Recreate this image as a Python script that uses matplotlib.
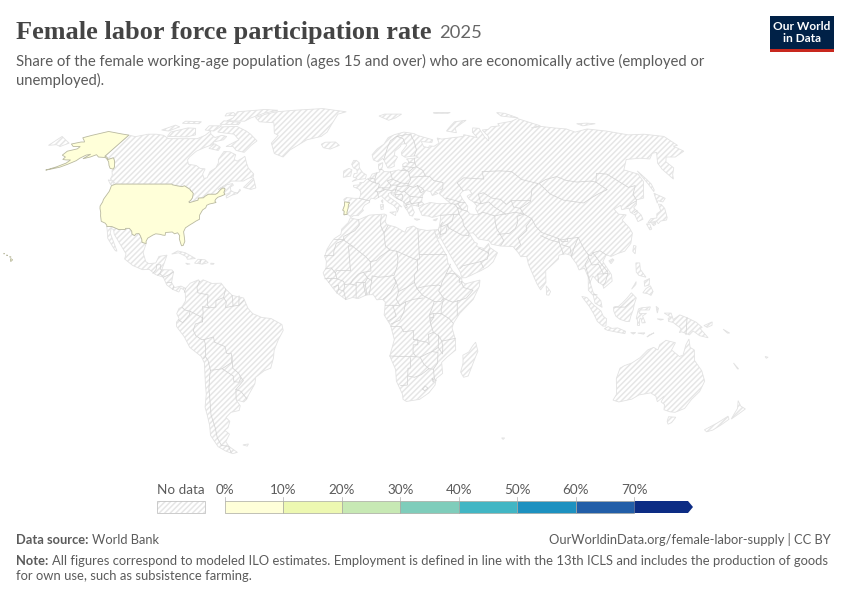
import numpy as np
import matplotlib
matplotlib.use("Agg")
import matplotlib.pyplot as plt
from matplotlib.patches import Polygon, Rectangle

plt.rcParams['font.family'] = ['Lato', 'DejaVu Sans']
plt.rcParams['hatch.linewidth'] = 1.1

# legend
bin_edges = [0, 10, 20, 30, 40, 50, 60, 70]
bin_labels = ["0%", "10%", "20%", "30%", "40%", "50%", "60%", "70%"]
bin_colors = ["#ffffd9", "#edf8b1", "#c7e9b4", "#7fcdbb", "#41b6c4", "#1d91c0", "#225ea8", "#0c2c84"]

# countries with data, all in the lowest bin in this picture
usa_value = 5
portugal_value = 5

# robinson table
rob_lat = [0, 5, 10, 15, 20, 25, 30, 35, 40, 45, 50, 55, 60, 65, 70, 75, 80, 85, 90]
rob_x = [1, .9986, .9954, .99, .9822, .973, .96, .9427, .9216, .8962, .8679, .835, .7986, .7597, .7186, .6732, .6213, .5722, .5322]
rob_y = [0, .062, .124, .186, .248, .31, .372, .434, .4958, .5571, .6176, .6769, .7346, .7903, .8435, .8936, .9394, .9761, 1.0]

# outlines, lon/lat
usa = [(-124.7,48.4),(-123,49),(-95.2,49),(-94.6,48.7),(-92,48.3),(-89.6,48),(-88.4,48.3),(-84.9,46.9),(-84.5,46.5),(-83.5,46),(-82.5,45.3),(-82.1,43.6),(-82.5,42.6),(-83.1,42.1),(-82.7,41.7),(-79,42.7),(-79.2,43.5),(-76.8,43.6),(-76.3,44.2),(-75,45),(-71.5,45),(-70.8,45.4),(-70.3,46.2),(-70,46.7),(-69.2,47.45),(-68.3,47.35),(-67.8,47.05),(-67.8,45.7),(-67,44.9),(-68.5,44.3),(-70,43.8),(-70.7,43),(-70.8,42.3),(-70,41.8),(-71.3,41.5),(-72.9,41.2),(-74,40.7),(-74.1,39.7),(-75.3,38.9),(-75.9,37.2),(-76,36.9),(-75.5,35.3),(-76.9,34.6),(-78,33.9),(-79.2,33.2),(-81,32),(-81.4,30.5),(-80.6,28.5),(-80,26.8),(-80.4,25.2),(-81.1,25.1),(-81.8,26.2),(-82.7,27.8),(-82.8,29),(-84,30.1),(-85.3,29.7),(-86.5,30.4),(-88,30.3),(-89.5,30.2),(-89.4,29.1),(-90.5,29.2),(-91.8,29.5),(-93.8,29.7),(-95,29.2),(-97,28),(-97.4,26.8),(-97.15,25.95),(-99.1,26.4),(-99.5,27.5),(-100.5,28.9),(-101.4,29.8),(-102.7,29.7),(-103.2,29),(-104.5,29.6),(-105,30.7),(-106.5,31.8),(-108.2,31.8),(-108.2,31.33),(-111.1,31.33),(-114.8,32.5),(-117.1,32.5),(-117.3,33),(-118.4,33.8),(-120.5,34.5),(-121.9,36.6),(-122.5,37.8),(-123.8,39.5),(-124.3,40.4),(-124.2,42),(-124.5,43),(-124,46.2)]
alaska = [(-141,69.6),(-141,60.3),(-139.5,60),(-137.5,59),(-135.5,59.7),(-133.5,58.5),(-130.5,56),(-130,55),(-132,55.3),(-134,56.5),(-136,58),(-138,59),(-140,59.8),(-144,60),(-146.5,61),(-148.5,60),(-151.5,59.3),(-150,61.2),(-152,60.8),(-153.5,59.5),(-154,58.5),(-156.5,57),(-159,55.8),(-163,54.9),(-164.7,54.6),(-161,55.9),(-158,57.5),(-157.5,58.8),(-160,58.8),(-162,59),(-162,60),(-165,60.8),(-165,62.5),(-161,63.5),(-161,64.5),(-165,64.5),(-168,65.6),(-164,66.5),(-162,66.5),(-163.5,67.2),(-166.5,68.4),(-163,69.5),(-156.5,71.3),(-152,70.8),(-146,70.1)]
hawaii = [(-156,20.2),(-155,19.7),(-155.7,19),(-156,19.7)]
hawaii_small = [
    [(-159.7,22.2),(-159.3,22.1),(-159.5,21.9)],
    [(-158.2,21.6),(-157.7,21.4),(-158.1,21.3)],
    [(-156.7,21),(-156,20.8),(-156.4,20.6)],
]
portugal = [(-8.9,37),(-7.4,37.2),(-7.5,38),(-7,39.6),(-6.9,41),(-6.3,41.7),(-8.2,42),(-8.8,42),(-8.8,40.5),(-9.5,38.8),(-8.8,38.4)]

canada = [(-141,69.6),(-136,68.9),(-130,70),(-125,70),(-120,69.5),(-115,68),(-110,68),(-105,68),(-98,68),(-95,69.5),(-94,71.5),(-92,70),(-88,68.5),(-85,69.5),(-81.5,69),(-82,67.5),(-87,66.5),(-86,65.5),(-90,64),(-93,62.5),(-94.5,60),(-94.5,58.8),(-92.5,57),(-88,56.5),(-85,55.3),(-82.3,55.1),(-82.2,53),(-80.5,51.3),(-79,51.5),(-79,54),(-77,55.5),(-77,57.5),(-78,59),(-77.5,62.4),(-74,62.2),(-70,61),(-69.5,59),(-67.5,58.3),(-65.5,59.5),(-64.5,60.3),(-62,57.5),(-60,55.5),(-56,53),(-55.8,51.9),(-58,51.3),(-60,50.2),(-66,50.2),(-69,48.3),(-71,46.9),(-68,48.7),(-65,49.2),(-64.3,48.5),(-65.5,47.9),(-64.8,46.5),(-63,45.8),(-61,45.5),(-60,46.5),(-60.5,47),(-61,45.3),(-63.5,44.6),(-65.7,43.5),(-66.2,44.4),(-64.5,45.3),(-67,45),(-67.8,45.7),(-67.8,47.05),(-68.3,47.35),(-69.2,47.45),(-70,46.7),(-70.3,46.2),(-70.8,45.4),(-71.5,45),(-75,45),(-76.3,44.2),(-76.8,43.6),(-79.2,43.5),(-79,42.7),(-82.7,41.7),(-83.1,42.1),(-82.5,42.6),(-82.1,43.6),(-82.5,45.3),(-83.5,46),(-84.5,46.5),(-84.9,46.9),(-88.4,48.3),(-89.6,48),(-92,48.3),(-94.6,48.7),(-95.2,49),(-123,49),(-125,50),(-127.5,51),(-128,52.5),(-130,54.3),(-130,55),(-130.5,56),(-133.5,58.5),(-135.5,59.7),(-137.5,59),(-139.5,60),(-141,60.3)]
latin_america = [(-117.1,32.5),(-114.8,32.5),(-111.1,31.33),(-108.2,31.33),(-108.2,31.8),(-106.5,31.8),(-105,30.7),(-104.5,29.6),(-103.2,29),(-102.7,29.7),(-101.4,29.8),(-100.5,28.9),(-99.5,27.5),(-99.1,26.4),(-97.15,25.95),(-97.8,22.5),(-96,19),(-94.5,18.2),(-91.5,18.5),(-90.5,21),(-87,21.5),(-87.8,18.3),(-88.5,15.9),(-84,15.8),(-83.2,15),(-83.7,11),(-82.3,9),(-79.5,9.6),(-77.4,8.7),(-75.5,10.7),(-72,12),(-71.5,11),(-70,12),(-66,10.6),(-62,10.7),(-60,8.5),(-57,6),(-52,5),(-50,1),(-48,-1),(-44,-2.5),(-40,-2.9),(-35.3,-5.2),(-34.8,-7.5),(-37,-11),(-39,-15),(-39.5,-18),(-41,-22),(-44,-23),(-48,-25.5),(-48.7,-28),(-52,-32),(-53.5,-34),(-55,-35),(-58.3,-34.2),(-57,-36.5),(-58,-38.3),(-62,-39),(-65,-41),(-63.7,-42.5),(-65.5,-45),(-67.5,-46),(-65.8,-47.5),(-69,-50.5),(-68.4,-52.4),(-65.3,-54.8),(-68,-55.3),(-71,-54.3),(-74,-52.5),(-75.4,-48),(-74,-44),(-73.5,-40),(-73.5,-37),(-71.5,-32),(-71,-28),(-70.2,-20),(-71.3,-17.5),(-76,-14),(-78,-10),(-81.2,-6),(-81.2,-4.3),(-80,-3),(-81,-1),(-80,1),(-78.8,1.5),(-77.2,4),(-77.5,7),(-78,8),(-79.5,8.9),(-80.3,7.3),(-83,8.3),(-85.7,10),(-87.5,13),(-91,14),(-94,16),(-97,15.9),(-101.5,17.5),(-105.5,20),(-105.3,22),(-108.5,25.5),(-110,27),(-112.5,29.5),(-113.5,31.3),(-114.8,31.8),(-114.5,30),(-111.5,26),(-109.5,23),(-110.3,23.2),(-112,25),(-115,28),(-116,30.5)]
eurasia = [(-5.6,36),(-6.4,36.8),(-7.4,37.2),(-8.9,37),(-8.8,38.4),(-9.5,38.8),(-8.8,40.5),(-8.8,42),(-9.2,43),(-8,43.7),(-4,43.4),(-1.8,43.4),(-1.2,44.6),(-1.1,46),(-2.2,47.1),(-4.7,47.9),(-4.7,48.5),(-1.6,48.7),(-1.6,49.6),(0.2,49.6),(1.6,50.8),(3.5,51.4),(4.7,53),(7,53.5),(8.7,53.9),(8.1,55.5),(8.2,57),(10.5,57.7),(10.3,56.2),(9.7,55),(11,54),(14.2,53.9),(18.5,54.7),(19.8,54.4),(21,55.2),(21,57),(22.5,57.7),(24.3,57.2),(24.4,58.4),(23.5,59.2),(28,59.5),(30.2,59.9),(28.5,60.5),(25,60.2),(22.9,59.9),(21.3,60.8),(21.3,62),(25,65),(24.5,65.8),(22,65.5),(21.3,64.5),(17.8,62.5),(17.2,60.7),(18.8,60),(16.5,57.5),(16.5,56.2),(14.3,55.5),(12.9,55.5),(11.2,58.9),(10.6,59.4),(8,58),(5.6,58.8),(5,61),(8,63.5),(12,65.5),(15,68.5),(19,69.8),(25,71),(31,70.3),(33,69.4),(41,67.5),(40,66.3),(34,66.7),(34.5,64.5),(37,64),(38,64.8),(40.5,64.6),(44,66),(44,68.3),(46.5,67.8),(54,68.5),(60,69),(60.8,69.8),(68,68.5),(67,71),(69,73),(72.8,72.8),(72.5,69),(73.5,67),(75,69),(74,72),(78,72.3),(81,73.5),(87,74),(87,75),(98,76.3),(104,77.7),(113,74),(106,73),(113,73.7),(120,73),(127,72.5),(130,71),(140,72.5),(150,71.5),(160,69.7),(170,70),(180,69),(180,65),(177,64.7),(179,62.5),(170,60),(165,60),(162,58),(162.5,55.5),(158.5,52.8),(156.7,51),(155.7,55),(156.8,57.5),(163,62),(160,61.6),(155,59.2),(150,59.5),(142,59),(135.5,54.7),(141,53),(140.5,50),(135,43.5),(131,42.8),(129.7,41),(127.5,39.7),(129.4,37),(129.3,35.3),(126.5,34.4),(126.5,37),(125,38),(125.2,39.6),(121.5,39),(122,40.7),(118,39.2),(119,37.3),(122.5,37),(119.5,35),(121.5,32),(122,30),(120,26),(116.5,23),(113.5,22.2),(110,21),(108,21.6),(106,19),(109,14),(109,11.5),(105,8.7),(104.8,10),(103,11),(100.8,13.5),(99.3,11),(100.4,7),(103.5,4),(104,1.4),(101,3),(100.3,6),(98.3,8),(98.7,13),(97.5,16.5),(95,15.8),(94.3,18),(92,21.5),(90,22),(87,21.5),(86.5,20),(80.3,15.5),(80,11),(77.5,8.1),(76,10.5),(73,18),(72.6,21),(70,20.9),(69,22.5),(67,24.8),(61.5,25),(57.5,25.7),(56.7,27),(52,27.7),(50,30),(48,30),(50,26.5),(51.2,26),(50.8,24.8),(54,24),(56.3,26),(56.5,24.5),(59.8,22.4),(57.5,18.9),(55,17),(52,15.6),(45,12.8),(43.3,12.8),(42.7,15),(39,21),(35,28),(34.9,29.5),(34.2,27.8),(32.6,29.9),(32.3,31.2),(34.2,31.3),(35,32.8),(36,36),(36,36.8),(32,36),(30.5,36.5),(27.5,36.8),(26.3,39.5),(29,41),(32,41.8),(36,41.3),(41.5,41.5),(38,44.4),(37,45.3),(39.2,47.2),(35,46),(36.5,45.3),(33.5,44.5),(33,46),(30.8,46.5),(28.7,44.5),(28,42),(29,41.2),(26.2,40.3),(24,40.7),(23,40.3),(24,38),(23,36.5),(21.7,36.8),(21,38.3),(19.4,40.5),(19.5,42),(15.5,43.8),(13.7,45.1),(13.7,45.7),(12.3,45.3),(12.5,44),(16,41.9),(18.4,40),(17,40.5),(16.6,39),(16,38),(15.8,39.5),(14.3,40.8),(12.3,41.7),(10.5,43),(8.8,44.4),(7.5,43.8),(6,43.1),(4,43.5),(3,42.5),(3.2,41.9),(0.7,40.7),(-0.3,39.3),(0.2,38.7),(-1.7,37.3),(-2.2,36.7),(-4.4,36.7)]
africa = [(-5.9,35.8),(-2,35.1),(3,36.9),(10,37.3),(11,36.9),(10.2,34.3),(11,33.2),(15,32.3),(19,30.3),(20,32),(23,32.7),(25,31.6),(29,31),(32.3,31.2),(32.6,29.9),(34,26.5),(35.5,24),(37.2,21),(37.5,18.5),(39.5,15.3),(43.2,12.5),(43.3,11.5),(44.5,10.4),(51.2,11.9),(50.8,9.5),(48,4.5),(42,-1),(39.5,-4.5),(38.8,-6.5),(40.4,-11),(40.7,-15),(37,-17.8),(34.8,-19.8),(35.5,-24),(32.8,-26),(32.5,-28.5),(30,-31.5),(26,-34),(20,-34.8),(18.4,-34),(18,-32),(15,-27),(14.5,-22.5),(11.8,-17.3),(13.7,-11),(12,-5.5),(9.2,-1.5),(9.5,1),(9.7,3.5),(8.5,4.5),(6,4.3),(4.5,6.3),(1.5,6.2),(-2,4.8),(-4.5,5.2),(-7.5,4.4),(-11.3,6.9),(-13.3,9),(-15,11),(-16.8,13),(-17.5,14.7),(-16.3,16.5),(-16.2,19.2),(-17,21),(-16,23.8),(-14.5,26),(-13,27.8),(-10,29.5),(-9.7,31.5),(-6.8,34)]
australia = [(114.2,-22),(113.5,-26),(115.7,-32),(115,-34.3),(118,-35),(123.5,-33.9),(126,-32.3),(131,-31.5),(134,-32.8),(135.7,-34.9),(137.8,-32.7),(137.5,-35),(139.7,-36),(140.7,-38),(144,-38.8),(146.5,-39),(150,-37.5),(151,-34),(153,-31),(153.5,-27),(150.8,-23),(146.5,-19),(145.5,-15),(143.5,-14),(142.5,-10.8),(141.5,-13),(141,-17),(139.5,-17.5),(135.5,-15),(136.8,-12.2),(132.5,-11.3),(130,-13),(129.5,-15),(127.5,-14),(125,-15),(122.2,-18),(119,-20),(116,-21)]
greenland = [(-73,78.2),(-68,76),(-58,75.5),(-54,70.5),(-51,69.5),(-53,66),(-49,61.5),(-43.5,60),(-41,63),(-33,67.5),(-25,69),(-22,71),(-20,75),(-17.5,80),(-12,81.5),(-30,83.6),(-50,82.5),(-62,81.5),(-68,80)]
islands = [
    [(-80,73.7),(-72,71.5),(-68,70),(-62,67),(-64,65),(-66,62),(-71,62.8),(-74,64.5),(-78,64.5),(-73,67.5),(-78,70),(-89,71),(-89,73.5)],
    [(-117,69),(-105,68.8),(-101,69.7),(-105,72.8),(-110,73),(-118,71)],
    [(-125,72),(-120,71.5),(-116,73.5),(-120,74.3)],
    [(-90,76.5),(-78,76.3),(-76,78),(-70,80.5),(-62,82.5),(-72,83),(-90,81.5),(-88,78)],
    [(-92,74.7),(-80,74.6),(-80,75.7),(-92,76.5)],
    [(-117,75.2),(-106,75),(-106,76),(-117,76.3)],
    [(-95,79),(-88,79.5),(-92,81),(-96,80.5)],
    [(-87,63.7),(-81,62.8),(-81,64.2),(-85.5,65.7)],
    [(-98,72),(-92,71.5),(-90,74),(-98,74)],
    [(-128.3,50.7),(-125,50),(-123.4,48.4),(-125.5,48.8)],
    [(-59,47.7),(-55.5,51.5),(-52.8,47.5),(-55,46.9)],
    [(-22.5,64),(-24,65.5),(-22,66.4),(-16,66.5),(-13.5,65),(-18.5,63.4)],
    [(-5.5,50),(-3,50.7),(1.3,51.2),(1.7,52.7),(0,53.5),(-1.5,55),(-2,56),(-2,57.6),(-3.5,58.6),(-5,58.6),(-6,57),(-5,55.5),(-3.2,54.9),(-3,53.4),(-4.5,53.2),(-5,51.8),(-3,51.3)],
    [(-10,51.7),(-6.3,52.2),(-6,53.8),(-5.7,54.7),(-7.3,55.3),(-10,54.2)],
    [(11,79),(17,76.8),(22,78),(27,80),(15,80)],
    [(51.5,71.5),(57,70.7),(58,73),(68.5,76.8),(60,76),(54,73)],
    [(50,80.5),(60,80.5),(62,81),(50,81)],
    [(95,79),(105,78),(100,80.5),(95,81)],
    [(138,75),(145,75.3),(150,75),(140,74)],
    [(-180,69),(-175,67.5),(-170,66),(-172.5,64.5),(-176,65.3),(-180,65)],
    [(142,54.3),(143,51),(143.5,49),(142.8,46.7),(142,46),(142,49)],
    [(140,41.5),(141.5,45.4),(145.3,43.4),(143,42),(141,42.5)],
    [(130.9,34),(133,35.5),(136,35.8),(137,37.4),(139.5,38.5),(140.3,41.2),(141.5,41),(142,39.5),(140.9,36),(140,35),(137,34.6),(135.5,33.6),(135,34.6),(132,34)],
    [(130,33.5),(131.5,33.5),(131.5,31.5),(130.5,31.2)],
    [(132.5,33.8),(134.5,34.2),(134.2,33.4),(133,32.8)],
    [(121,25.2),(122,25),(120.9,22),(120.1,23)],
    [(108.7,19.3),(110.5,20.1),(111,19.6),(109.5,18.2)],
    [(120.5,18.5),(122.2,18.5),(122,16),(124,13),(121,13.7),(120,15)],
    [(122,7),(123.5,8.6),(125.5,9.7),(126.5,7.5),(125.5,6),(124,6.7)],
    [(117.2,8.4),(119.5,11.3),(119.2,10.2)],
    [(123,11.5),(125.5,12.5),(125,10),(123,9.5)],
    [(109,1.5),(111,1.7),(113,3.2),(115,5),(117,7),(119,5),(118,2.5),(117.5,0.5),(116.5,-2),(116,-4),(114.5,-4),(111.8,-3.2),(110,-2),(109,0)],
    [(95.3,5.6),(97.5,5.2),(100.5,2.2),(103.5,0),(104.5,-2),(106,-3),(105.8,-5.8),(104.5,-5.8),(102,-4),(100.3,-1),(98.5,1.7)],
    [(105.2,-6.8),(106.8,-6),(108.5,-6.7),(111,-6.5),(114.5,-7.8),(114.3,-8.7),(110,-8),(106.5,-7.4)],
    [(119.8,0.8),(121,1.2),(125,1.6),(124.5,0.4),(120.5,0.4),(120.2,-1),(121.5,-1),(123.3,-0.9),(121.6,-1.9),(122.9,-4.5),(121.5,-4.6),(120.9,-2.7),(120.4,-3),(120.4,-5.6),(119.5,-5.5),(119.5,-3.5),(118.9,-2.8)],
    [(131,-0.8),(134,-0.8),(135,-3.3),(137.8,-1.5),(141,-2.6),(145,-4.3),(147.8,-6.3),(147,-6.8),(150.8,-10.3),(147,-9.5),(144,-7.7),(142.5,-9.2),(139,-8),(138,-8.3),(138.7,-6.8),(135,-4.4),(133,-4),(132.8,-2.8),(134,-2.4)],
    [(148.5,-5.6),(152,-4.2),(152,-5.5),(150,-6.3)],
    [(124,-10),(127,-8.4),(125,-9.2)],
    [(119.9,-8.5),(123,-8.4),(122.5,-8.9)],
    [(116.8,-8.3),(119,-8.3),(118,-8.9)],
    [(127.5,1.8),(128.5,1),(128,-0.8),(127.7,0.5)],
    [(128,-3),(130.8,-3.2),(129.5,-3.5)],
    [(157,-7),(160,-8.5),(159,-8.5)],
    [(144.7,-40.7),(148.3,-40.9),(148,-43),(146.8,-43.6),(145.5,-42.5)],
    [(172.7,-34.5),(175.5,-36.6),(178.5,-37.7),(177,-39.5),(175.3,-41.6),(174.8,-39.8),(174.7,-37.5)],
    [(172.7,-40.5),(174.3,-41.7),(172.8,-43.7),(170.7,-45.9),(168.4,-46.6),(166.5,-45.8),(170,-43.2)],
    [(49.3,-12),(50.5,-15.5),(49.5,-18),(47,-25),(45,-25.5),(43.5,-23.5),(44.3,-20),(44,-17),(46.5,-15.8),(48,-13.5)],
    [(80,9.7),(81.8,7.5),(81,6.1),(80,6.2)],
    [(-85,21.9),(-82.5,23.1),(-79,22.4),(-74.2,20.2),(-77.7,19.9),(-78.5,21),(-82,22.4)],
    [(-74.4,18.4),(-73,19.9),(-69.9,19.7),(-68.4,18.6),(-71,18),(-72,18.2)],
    [(-78.3,18.4),(-76.3,18.1),(-77.5,17.9)],
    [(-67.2,18.4),(-65.7,18.3),(-66,18),(-67.2,18)],
    [(12.5,38),(15.5,38.2),(15.1,36.7)],
    [(8.2,40.9),(9.7,41),(9.5,39.2),(8.5,39)],
    [(8.7,42.4),(9.5,42.9),(9.4,41.5)],
    [(23.6,35.5),(26.3,35.3),(24.8,34.9)],
    [(32.3,35),(34.5,35.6),(33.5,34.7)],
    [(-61,-51.8),(-58,-51.4),(-59,-52.3)],
    [(164,-20),(167,-22.3),(166.5,-22.3)],
    [(177.3,-17.5),(178.7,-17.8),(178,-18.2)],
    [(69,-49),(70.5,-49),(70,-49.6)],
]
caspian = [(49,46.4),(52,46.8),(53,45.2),(51,44.6),(50.3,44.2),(51,43),(52.7,42),(53.8,40.6),(53,39.3),(53.9,37),(50,37.3),(48.9,38.4),(49.5,40.3),(47.8,43),(47,45)]

# land borders
borders_america = [
    [(-71.5,11.5),(-72.5,9),(-72,7),(-67.5,6.2),(-67.8,2.5),(-66.9,1.2),(-69.8,1.7),(-69.5,-0.5),(-70,-4.2),(-70,-2.5),(-75.2,-0.1),(-77.5,0.4),(-78.8,1.5)],
    [(-75.2,-0.1),(-75.5,-1.5),(-78.5,-4.5),(-80.3,-3.4)],
    [(-70,-4.2),(-73,-5),(-74,-7.5),(-73,-9.5),(-70.6,-11),(-69.5,-11),(-69,-13),(-69.5,-17.5),(-70.4,-18.35)],
    [(-69.5,-17.5),(-68.5,-19),(-67.9,-22.8),(-68.5,-25),(-69.8,-30),(-70.2,-33),(-71,-37),(-71.7,-40),(-71.7,-45),(-72.5,-49),(-72,-52),(-68.4,-52.4)],
    [(-68.6,-52.7),(-68.6,-54.9)],
    [(-69.5,-11),(-65.3,-10),(-65,-12),(-60.5,-13.7),(-60,-16.3),(-58,-16.3),(-57.8,-18),(-58.2,-19.8),(-62.6,-22.2),(-64.5,-22.5),(-67.9,-22.8)],
    [(-62.6,-22.2),(-58,-25),(-58,-27.2),(-55.8,-27.4),(-54.6,-25.6),(-55.5,-23.9),(-57.9,-22),(-57.8,-18)],
    [(-54.6,-25.6),(-53.7,-26.8),(-57.6,-30.2),(-58.3,-34)],
    [(-57.6,-30.2),(-55.5,-30.9),(-53.4,-33.7)],
    [(-60,8.5),(-60.7,5.2),(-64,4),(-64,1.5),(-66.9,1.2)],
    [(-60.7,5.2),(-59.5,3.5),(-59.8,1.3),(-56.5,1.9),(-57,6)],
    [(-56.5,1.9),(-54,2.2),(-51.8,4.3)],
    [(-54,2.2),(-54,5.8)],
    [(-92.2,14.5),(-91,16),(-91,17.8),(-89.2,17.8),(-89.2,15.9)],
    [(-88.5,15.9),(-89.2,14.4),(-90.1,13.8)],
    [(-89.2,14.4),(-87.8,13.4)],
    [(-87.5,13),(-85,14),(-83.2,15)],
    [(-85.7,11),(-83.7,10.9)],
    [(-83,8.3),(-82.6,9.5)],
    [(-77.9,7.2),(-77.4,8.7)],
    [(-72,18.2),(-71.7,19.8)],
]
borders_africa = [
    [(-2,35.1),(-1.7,33),(-3.7,30.9),(-8.7,28.7),(-8.7,27.3),(-4.8,25),(1.2,20.9),(3.2,19),(5.8,19.4),(7.5,20.9),(12,23.5)],
    [(-8.7,27.7),(-13,27.7)],
    [(-8.7,27.3),(-12,26),(-13,23),(-13,21.3),(-17,21.3)],
    [(-4.8,25),(-6.5,25),(-5.5,15.5),(-11.5,15.6),(-12.2,14.7),(-14,16.6),(-16.4,16.2)],
    [(-12.2,14.7),(-11.4,12.4),(-8.5,11.4),(-8,10.2),(-5.5,10.4),(-4.5,12),(-2,14.2),(0.2,14.9),(3.5,15.4),(3.2,19)],
    [(-11.4,12.4),(-13.7,12.6),(-16.7,12.4)],
    [(-13.7,12.6),(-15,11)],
    [(-13,9.2),(-10.7,10),(-10.6,8.3),(-11.4,6.9)],
    [(-10.6,8.3),(-8.4,7.7),(-7.5,4.4)],
    [(-8,10.2),(-8.4,7.7)],
    [(-5.5,10.4),(-3,9.9),(-3,5)],
    [(-3,9.9),(-3,11),(0,11),(1.2,6.1)],
    [(0,11),(0.9,11),(1.7,6.2)],
    [(0.9,11),(2,12.7),(0.2,14.9)],
    [(2,12.7),(3.8,11.7),(2.7,6.4)],
    [(3.8,11.7),(4,13.5),(7,13),(10,13.2),(13.6,13.7),(15,17),(15.5,20),(15,23),(12,23.5),(10,25),(9.5,30),(8,33),(8.5,36.9)],
    [(9.5,30),(11.5,33)],
    [(25,31.6),(25,20),(24,20),(24,19.5),(15,23)],
    [(25,22),(37,22)],
    [(24,19.5),(24,15.7),(22.5,14),(22.5,11),(23.5,8.7),(27,9.5),(33,10),(34,9.5),(34.5,11),(36.5,14.3),(38.6,18)],
    [(15.5,7.5),(19,9),(22.5,11)],
    [(36.5,14.3),(40,14.5),(42.4,12.5),(42,11),(43.2,11.4)],
    [(43,11),(44,9),(48,8),(45,5),(41.9,4),(41,3.9),(41,-1.6)],
    [(41.9,4),(39,3.4),(36,4.5),(35,5),(33,7.7),(34,9.5)],
    [(35,5),(34,3.7),(31,3.7),(26,6),(23.5,8.7)],
    [(18.6,3.5),(22,4.5),(26,5)],
    [(15.5,7.5),(14.5,4.5),(16,2.2),(18.6,3.5),(17.7,-0.5),(16,-3.5),(12.2,-5)],
    [(13.6,13),(14.5,11),(12,7),(8.8,4.6)],
    [(13.6,13),(15,10),(15.5,7.5)],
    [(9.7,2.2),(13,2.2),(16,2)],
    [(13,2.2),(14.4,-2),(11,-3.8)],
    [(12.2,-6),(16.5,-6),(17.7,-8),(22,-7.5),(22,-11),(24,-11),(24,-13),(22,-13),(22,-16),(23.4,-17.6),(14,-17.4),(11.8,-17.3)],
    [(21,-18),(21,-22),(20,-22),(20,-28.5),(17,-28.7)],
    [(20,-25),(23,-25.5),(26,-24.5),(29.3,-22.2),(31.3,-22.4),(32,-26),(32.8,-26.8)],
    [(23.4,-17.6),(25.2,-17.8),(28,-16.5),(30.4,-15.6),(33,-16),(33,-20),(31.3,-22.4)],
    [(25.2,-17.8),(27,-20.5),(29.3,-22.2)],
    [(22,-11),(28,-12),(29,-13),(28.5,-9),(30.7,-8.2),(29.3,-4.5),(29,-1.2),(30,1),(31,3.7)],
    [(34,-1),(37.6,-3),(39.2,-4.7)],
    [(34,-1),(34,1),(35,4.5)],
    [(29,-1.4),(30.5,-1),(34,-1)],
    [(30.5,-1),(30.8,-2.4),(29,-2.7)],
    [(29.3,-4.5),(30.8,-2.4)],
    [(30.7,-8.2),(33,-9.5),(34.5,-11.6),(35,-14),(35,-16.5),(33,-14),(33,-9.5)],
    [(34.5,-11.6),(40.4,-10.5)],
    [(30.4,-15.6),(33,-14)],
    [(27,-30),(28,-28.8),(29.4,-29.7),(28,-30.7),(27,-30)],
    [(31,-26),(32,-26.5),(31.5,-27.3),(31,-26)],
]
borders_europe = [
    [(-1.8,43.4),(3.2,42.4)],
    [(2.5,51),(4.2,50),(6,49.5),(8.2,49),(7.6,47.6),(6,46.2),(7,45.9),(7.5,43.8)],
    [(3.5,51.4),(6,51),(6.2,49.5)],
    [(7,53.4),(6,51)],
    [(8.6,54.9),(9.7,54.8)],
    [(14.2,53.9),(14.8,51),(12.2,50.3),(13.8,48.6),(13,47.5),(9.6,47.5),(7.6,47.6)],
    [(9.6,47.5),(10.4,46.6),(8.5,46),(7,45.9)],
    [(10.4,46.9),(13.7,46.5),(16.1,46.8),(15.5,45.5),(13.6,45.5)],
    [(13.8,48.6),(16.9,48.6),(16.9,48),(16.1,46.8)],
    [(14.8,51),(18.8,49.5),(22.5,49.1),(24,50.8),(23.6,53.9),(22.8,54.4),(19.8,54.4)],
    [(22.8,54.4),(21,55.2)],
    [(16.9,48.6),(18.8,49.5)],
    [(17,48),(22.3,48.4),(22.5,49.1)],
    [(23.6,53.9),(26.5,55.6),(21,56.2)],
    [(26.5,55.6),(28,56),(27.7,57.5),(24.3,57.9)],
    [(27.4,57.6),(28,59.5)],
    [(28,56),(31,54.5),(31.8,52.2),(24,51.7)],
    [(31.8,52.2),(34,52),(35.5,50.4),(40,49.6),(39.2,47.2)],
    [(22.3,48.4),(24.9,47.7),(27,48.4),(29,47.5),(30,46.4),(28.2,45.5),(27,48.4)],
    [(22.9,48),(20.3,46.1),(22.7,44.2),(28.6,43.7)],
    [(16.1,46.8),(18.9,45.9),(20.3,46.1)],
    [(15.7,44.9),(19,44.9),(19.2,43.5),(18.5,42.5)],
    [(15.7,44.9),(16,43.5),(18.5,42.5)],
    [(22.7,44),(22.4,42.3),(23,41.3),(26.3,41.7),(28,42)],
    [(26.3,41.7),(26.2,40.3)],
    [(19.3,42),(20.5,41),(20.9,40),(20,39.7)],
    [(20.5,41.5),(22.4,42.3)],
    [(20.9,40.9),(23,41.3)],
    [(11.2,59),(12.3,61),(14,64.3),(16,67),(20,69),(26,69.8),(29,69.7)],
    [(24.2,65.8),(23.7,68),(20.5,69)],
    [(29,69.7),(28.9,69),(29.8,67),(30,63),(28,60.5)],
]
borders_asia = [
    [(36,36.8),(42.3,37.2),(44.8,37.2),(44.5,39.7),(43.5,41.1),(41.5,41.5)],
    [(40,43.4),(44,42.6),(46.5,41.9),(45,41.3),(43.5,41.1)],
    [(45,41.3),(46.5,39),(44.5,39.7)],
    [(46.5,39),(48.9,38.4)],
    [(46.5,41.9),(48.6,41.8)],
    [(42.3,37.2),(41,34.5),(38.8,33.4),(36,32.5),(35.6,33.1),(35.5,31.5),(34.9,29.5),(34.2,31.3)],
    [(35.6,33.1),(36.6,34.2)],
    [(34.9,29.4),(37.5,30),(38.8,33.4),(39,32),(44.7,29.2),(47.7,29),(48,30),(46,33),(46,35),(44.8,37.2)],
    [(42.8,16.4),(44,17.4),(52,19),(53,16.6)],
    [(52,19),(55,20),(55.7,22),(56.3,24)],
    [(51.6,24.2),(55.2,22.7),(55.7,22)],
    [(53.9,37.3),(56,38),(61.2,36.6),(60.8,34.3),(61,31.4),(61.8,30),(63.3,27),(61.6,25.2)],
    [(61,29.5),(66.3,29.9),(69.5,31.8),(71,34),(71.5,36.4),(74.9,37.3)],
    [(61.2,36.6),(64.8,37.2),(66.5,37.3),(71,38),(74.9,37.3)],
    [(53,42),(56,41.3),(56,45),(58.6,45.6),(62,43.5),(66,43),(68,41),(71,42.5),(80,42.5)],
    [(56,41.3),(60,42),(62,40),(66.5,37.3)],
    [(49,46.3),(47,49.5),(51,51.5),(61,51),(61.5,54),(71,54.3),(76.8,54),(80,50.8),(87.3,49.2),(83,47),(80,42.2),(74,39.5),(71,40),(71,42.5)],
    [(74,39.5),(74.9,37.3),(78,35.5),(79,32.5),(81,30.2),(88,27.9),(89,27.3),(92,27.8),(97,28.3),(98.5,24),(100,21.7),(101.2,21.2),(102.2,22.4),(105.5,23.2),(108,21.6)],
    [(80.3,29),(84,27.4),(88,26.4),(88,27.9)],
    [(89,27.3),(89,26.8),(92,26.8),(92,27.8)],
    [(78,35.5),(74.5,32.5),(74.5,31),(70,28),(70.5,25.5),(68.2,23.7)],
    [(88,26.4),(89,22)],
    [(89,25.5),(92.4,24.5),(92.5,20.8)],
    [(97,28.3),(94,24),(93,22),(92.5,21)],
    [(100,21.7),(100,20.4),(98,18),(98.5,15),(99.3,11)],
    [(100,20.4),(101,17.7),(104,18),(105.5,14.3)],
    [(102.2,22.4),(104.5,19),(107.5,15),(107.5,14.5),(106,11),(104.8,10)],
    [(103,11),(103,14.2),(105.5,14.3),(107.5,14.5)],
    [(100.3,6.5),(102,6.2)],
    [(87.8,49.2),(92,50.8),(98.5,52),(102,50.5),(107,49.8),(114,50.2),(116.5,49.8),(119.8,46.8),(115,45.4),(111,44),(105,41.6),(96,42.7),(91,45),(87.8,49.2)],
    [(116.5,49.8),(120,53.3),(125,53),(131,47.7),(135,48.4),(131,45),(131,42.8)],
    [(124.5,40),(128,41.5),(130.7,42.4)],
    [(126.7,37.9),(128.5,38.6)],
    [(141,-2.6),(141,-9.1)],
    [(109.5,1.5),(114,1.5),(117.5,4.2)],
]

def project(points):
    # Robinson, fitted to the reference by eye
    pts = np.array(points, dtype=float)
    lat = np.abs(pts[:, 1])
    x = 363 + 2.3 * np.interp(lat, rob_lat, rob_x) * pts[:, 0]
    y = 311 - 209.6 * np.interp(lat, rob_lat, rob_y) * np.sign(pts[:, 1])
    return np.column_stack([x, y])

def bin_color(value):
    return bin_colors[np.searchsorted(bin_edges, value, side='right') - 1]

fig = plt.figure(figsize=(8.5, 6), dpi=100)
ax = fig.add_axes([0, 0, 1, 1])
ax.set_xlim(0, 850)
ax.set_ylim(600, 0)
ax.axis('off')

HATCH = "#e6e6e6"
HATCH_PATTERN = "/" * 6
COAST = "#e2e2e2"
BORDER = "#d4d4d4"
TEXT = "#5b5b5b"

land = [canada, latin_america, eurasia, africa, australia, greenland] + islands
for shape in land:
    xy = project(shape)
    ax.add_patch(Polygon(xy, closed=True, facecolor="white", edgecolor=HATCH, hatch=HATCH_PATTERN, lw=0))
    ax.add_patch(Polygon(xy, closed=True, fill=False, edgecolor=COAST, lw=0.6))
ax.add_patch(Polygon(project(caspian), closed=True, facecolor="white", edgecolor=COAST, lw=0.6))

for group in [borders_america, borders_africa, borders_europe, borders_asia]:
    for line in group:
        xy = project(line)
        ax.plot(xy[:, 0], xy[:, 1], color=BORDER, lw=0.55, solid_joinstyle='round')

for shape, val in [(usa, usa_value), (alaska, usa_value), (hawaii, usa_value), (portugal, portugal_value)] + [(s, usa_value) for s in hawaii_small]:
    ax.add_patch(Polygon(project(shape), closed=True, facecolor=bin_color(val), edgecolor="#b9b9a0", lw=0.6))

# title block
ax.text(16, 32, "Female labor force participation rate", family=['Liberation Serif', 'DejaVu Serif'],
        fontsize=18.9, fontweight='bold', color="#444444", va='center')
ax.text(439, 33, "2025", fontsize=13.2, color="#666666", va='center')
ax.text(16, 61, "Share of the female working-age population (ages 15 and over) who are economically active (employed or",
        fontsize=10.7, color=TEXT, va='center')
ax.text(16, 80, "unemployed).", fontsize=10.7, color=TEXT, va='center')

# logo
ax.add_patch(Rectangle((770, 16), 64, 36, facecolor="#002147", lw=0))
ax.add_patch(Rectangle((770, 49), 64, 3, facecolor="#c8281e", lw=0))
ax.text(802, 26.5, "Our World", color="white", fontsize=8.6, fontweight='bold', ha='center', va='center')
ax.text(802, 38.5, "in Data", color="white", fontsize=8.6, fontweight='bold', ha='center', va='center')

# legend
LEG_X0, LEG_W, LEG_Y, LEG_H = 225, 58.5, 501, 12
ax.add_patch(Rectangle((157, LEG_Y), 48, LEG_H, facecolor="white", edgecolor=HATCH, hatch=HATCH_PATTERN, lw=0))
ax.add_patch(Rectangle((157, LEG_Y), 48, LEG_H, fill=False, edgecolor="#c4c4c4", lw=0.6))
ax.text(181, 490, "No data", fontsize=9.7, color=TEXT, ha='center', va='center')
for i, (lab, col) in enumerate(zip(bin_labels, bin_colors)):
    x = LEG_X0 + i * LEG_W
    if i < len(bin_colors) - 1:
        ax.add_patch(Rectangle((x, LEG_Y), LEG_W, LEG_H, facecolor=col, edgecolor="#a8a8a0", lw=0.5))
    else:
        ax.add_patch(Polygon([(x, LEG_Y), (x + LEG_W - 5, LEG_Y), (x + LEG_W, LEG_Y + LEG_H / 2),
                              (x + LEG_W - 5, LEG_Y + LEG_H), (x, LEG_Y + LEG_H)], closed=True, facecolor=col, lw=0))
    ax.plot([x, x], [497, LEG_Y], color="#b0b0b0", lw=0.5)
    ax.text(x, 490, lab, fontsize=9.7, color=TEXT, ha='center', va='center')

# footer
ax.text(16, 540, "Data source:", fontsize=9.25, fontweight='bold', color=TEXT, va='center')
ax.text(92, 540, "World Bank", fontsize=9.25, color=TEXT, va='center')
ax.text(831, 540, "OurWorldinData.org/female-labor-supply | CC BY", fontsize=9.25, color=TEXT, va='center', ha='right')
ax.text(16, 561, "Note:", fontsize=9.25, fontweight='bold', color=TEXT, va='center')
ax.text(52, 561, "All figures correspond to modeled ILO estimates. Employment is defined in line with the 13th ICLS and includes the production of goods",
        fontsize=9.34, color=TEXT, va='center')
ax.text(16, 576, "for own use, such as subsistence farming.", fontsize=9.34, color=TEXT, va='center')

fig.savefig("out.png", dpi=100)
